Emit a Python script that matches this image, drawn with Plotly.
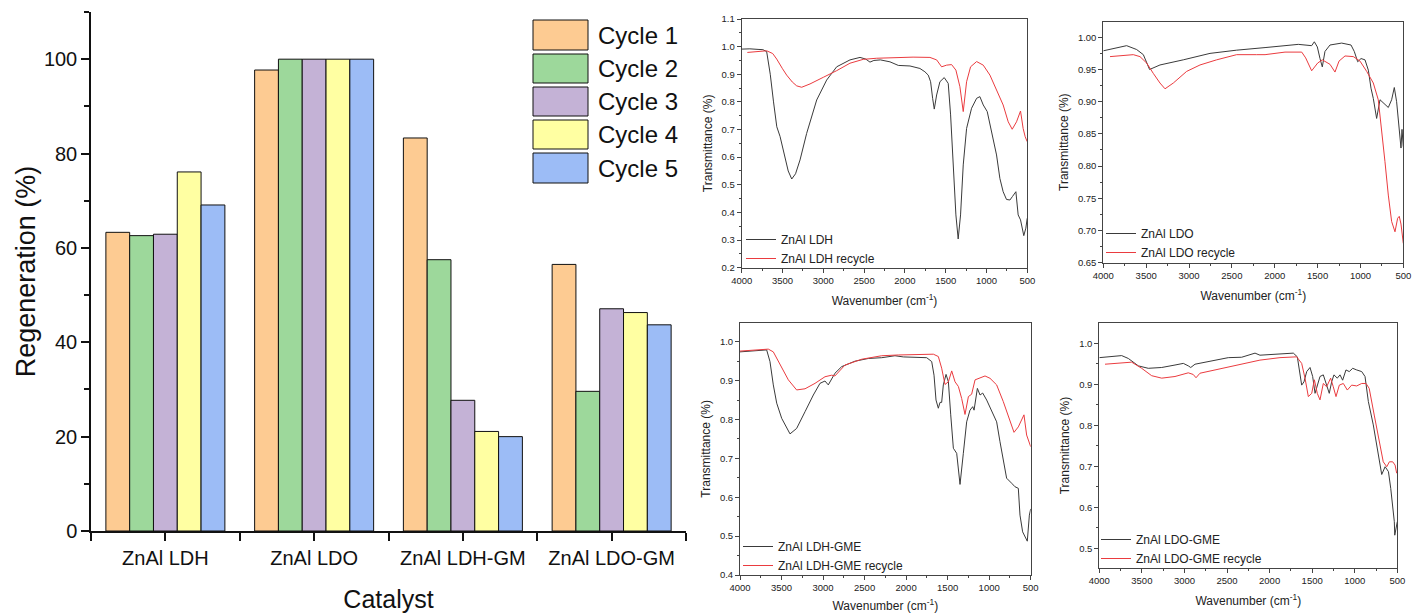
import plotly.graph_objects as go

# ---------------- data: regeneration bar chart ----------------
catalysts = ["ZnAl LDH", "ZnAl LDO", "ZnAl LDH-GM", "ZnAl LDO-GM"]
cycle_names = ["Cycle 1", "Cycle 2", "Cycle 3", "Cycle 4", "Cycle 5"]
cycle1 = [63.3, 97.7, 83.3, 56.5]
cycle2 = [62.6, 100.0, 57.5, 29.6]
cycle3 = [62.9, 100.0, 27.7, 47.1]
cycle4 = [76.1, 100.0, 21.1, 46.3]
cycle5 = [69.1, 100.0, 20.0, 43.7]
cycle_values = [cycle1, cycle2, cycle3, cycle4, cycle5]
cycle_colors = ["#FDCB92", "#9DD89B", "#C4B2D6", "#FFFFA2", "#9CBCF6"]

# ---------------- data: FTIR spectra ----------------
ldh_wn = [4000, 3900, 3800, 3740, 3694, 3650, 3610, 3570, 3530, 3480, 3430, 3387, 3340, 3285, 3204, 3081,
          2959, 2836, 2673, 2550, 2480, 2428, 2380, 2300, 2183, 2081, 1938, 1816, 1755, 1714, 1685, 1660,
          1640, 1611, 1571, 1518, 1469, 1440, 1408, 1375, 1347, 1318, 1285, 1244, 1183, 1121, 1081, 1040,
          991, 938, 877, 836, 796, 755, 713, 681, 640, 612, 583, 543, 518, 501]
ldh_t = [0.991, 0.992, 0.990, 0.989, 0.982, 0.90, 0.80, 0.71, 0.675, 0.615, 0.55, 0.521, 0.54, 0.59, 0.686, 0.807,
         0.879, 0.927, 0.952, 0.961, 0.955, 0.944, 0.950, 0.952, 0.945, 0.932, 0.930, 0.921, 0.909, 0.897, 0.873, 0.813,
         0.774, 0.825, 0.873, 0.888, 0.867, 0.753, 0.572, 0.391, 0.304, 0.391, 0.572, 0.704, 0.777, 0.813, 0.819, 0.789,
         0.765, 0.692, 0.608, 0.523, 0.475, 0.447, 0.445, 0.458, 0.475, 0.391, 0.373, 0.316, 0.343, 0.379]
ldh_rec_wn = [3931, 3800, 3694, 3620, 3571, 3500, 3449, 3380, 3326, 3265, 3163, 3000, 2836, 2673, 2510, 2346,
              2101, 1900, 1693, 1611, 1550, 1489, 1428, 1375, 1326, 1285, 1244, 1195, 1121, 1040, 958, 877,
              796, 734, 685, 632, 583, 551, 526, 501]
ldh_rec_t = [0.979, 0.981, 0.985, 0.975, 0.955, 0.92, 0.897, 0.872, 0.858, 0.853, 0.865, 0.889, 0.913, 0.94, 0.954, 0.958,
             0.961, 0.962, 0.961, 0.952, 0.927, 0.933, 0.935, 0.915, 0.855, 0.765, 0.873, 0.927, 0.946, 0.933, 0.897, 0.843,
             0.789, 0.728, 0.701, 0.728, 0.767, 0.704, 0.674, 0.656]

ldo_wn = [4000, 3844, 3728, 3611, 3533, 3460, 3339, 3067, 2755, 2444, 2211, 2113, 1725, 1569, 1538, 1503,
          1472, 1445, 1414, 1355, 1219, 1110, 1072, 1032, 993, 947, 908, 877, 850, 811, 772, 733,
          675, 636, 605, 578, 550, 527, 515, 500]
ldo_t = [0.979, 0.983, 0.987, 0.981, 0.973, 0.950, 0.957, 0.965, 0.975, 0.980, 0.982, 0.984, 0.989, 0.987, 0.993, 0.985,
         0.967, 0.954, 0.978, 0.988, 0.991, 0.988, 0.978, 0.962, 0.967, 0.965, 0.949, 0.921, 0.905, 0.874, 0.903, 0.898,
         0.891, 0.903, 0.922, 0.900, 0.864, 0.828, 0.857, 0.830]
ldo_rec_wn = [3922, 3650, 3572, 3494, 3417, 3339, 3280, 3183, 3028, 2872, 2678, 2444, 2211, 2113, 1880, 1685,
              1639, 1569, 1499, 1445, 1355, 1297, 1250, 1180, 1083, 1005, 927, 850, 792, 753, 714, 675,
              636, 597, 566, 547, 527, 500]
ldo_rec_t = [0.970, 0.973, 0.970, 0.960, 0.944, 0.929, 0.920, 0.929, 0.947, 0.957, 0.965, 0.973, 0.973, 0.973, 0.977, 0.977,
             0.968, 0.948, 0.960, 0.965, 0.958, 0.946, 0.963, 0.971, 0.970, 0.963, 0.947, 0.929, 0.903, 0.859, 0.807, 0.755,
             0.714, 0.698, 0.719, 0.722, 0.710, 0.680]

ldhg_wn = [4000, 3679, 3639, 3599, 3558, 3498, 3398, 3318, 3217, 3117, 3037, 2977, 2937, 2896, 2857, 2776,
           2616, 2455, 2294, 2134, 2034, 1752, 1692, 1664, 1640, 1612, 1592, 1572, 1552, 1519, 1491, 1463,
           1431, 1391, 1351, 1311, 1271, 1231, 1198, 1182, 1142, 1110, 1078, 1030, 970, 910, 870, 830,
           790, 729, 689, 649, 629, 597, 557, 541, 516, 500]
ldhg_t = [0.974, 0.979, 0.949, 0.889, 0.842, 0.803, 0.763, 0.777, 0.820, 0.863, 0.893, 0.899, 0.889, 0.906, 0.919, 0.936,
          0.950, 0.957, 0.959, 0.964, 0.961, 0.959, 0.949, 0.914, 0.850, 0.829, 0.844, 0.844, 0.889, 0.916, 0.897, 0.812,
          0.726, 0.713, 0.633, 0.713, 0.794, 0.824, 0.833, 0.824, 0.880, 0.863, 0.868, 0.850, 0.824, 0.794, 0.743, 0.691,
          0.649, 0.636, 0.627, 0.623, 0.554, 0.511, 0.494, 0.487, 0.554, 0.570]
ldhg_rec_wn = [4000, 3659, 3599, 3518, 3418, 3318, 3217, 3097, 2977, 2896, 2857, 2736, 2535, 2294, 2094, 1672,
               1612, 1572, 1532, 1491, 1451, 1411, 1371, 1331, 1291, 1250, 1211, 1170, 1110, 1050, 990, 910,
               830, 749, 701, 649, 581, 549, 500]
ldhg_rec_t = [0.976, 0.981, 0.974, 0.940, 0.902, 0.876, 0.879, 0.893, 0.910, 0.914, 0.912, 0.940, 0.955, 0.964, 0.966, 0.968,
              0.962, 0.932, 0.890, 0.897, 0.925, 0.897, 0.885, 0.854, 0.813, 0.859, 0.865, 0.902, 0.906, 0.912, 0.906, 0.889,
              0.846, 0.794, 0.767, 0.781, 0.812, 0.760, 0.730]

ldog_wn = [4000, 3737, 3659, 3542, 3425, 3267, 3111, 3013, 2955, 2926, 2876, 2720, 2485, 2328, 2171, 2113,
           1878, 1721, 1674, 1651, 1623, 1596, 1564, 1525, 1494, 1466, 1440, 1408, 1369, 1330, 1299, 1271,
           1244, 1205, 1173, 1142, 1103, 1064, 1024, 977, 918, 879, 840, 782, 723, 683, 643, 604,
           577, 554, 535, 530, 500]
ldog_t = [0.965, 0.970, 0.963, 0.945, 0.939, 0.941, 0.947, 0.951, 0.945, 0.941, 0.949, 0.955, 0.965, 0.966, 0.976, 0.971,
          0.973, 0.976, 0.967, 0.931, 0.898, 0.906, 0.931, 0.941, 0.919, 0.878, 0.898, 0.919, 0.923, 0.898, 0.878, 0.906,
          0.923, 0.915, 0.923, 0.910, 0.935, 0.931, 0.939, 0.935, 0.931, 0.919, 0.858, 0.801, 0.728, 0.680, 0.699, 0.687,
          0.646, 0.598, 0.565, 0.532, 0.565]
ldog_rec_wn = [3933, 3620, 3502, 3385, 3267, 3111, 2955, 2897, 2864, 2818, 2641, 2406, 2171, 2113, 1878, 1682,
               1623, 1584, 1545, 1505, 1474, 1440, 1408, 1369, 1330, 1283, 1252, 1220, 1181, 1134, 1087, 1036,
               977, 918, 867, 830, 771, 712, 665, 624, 593, 554, 526, 507]
ldog_rec_t = [0.949, 0.954, 0.939, 0.921, 0.915, 0.919, 0.928, 0.924, 0.916, 0.927, 0.935, 0.945, 0.955, 0.959, 0.965, 0.967,
              0.951, 0.915, 0.870, 0.878, 0.911, 0.878, 0.862, 0.902, 0.894, 0.915, 0.894, 0.870, 0.898, 0.902, 0.886, 0.898,
              0.896, 0.902, 0.902, 0.890, 0.825, 0.760, 0.711, 0.699, 0.711, 0.711, 0.703, 0.683]

W, H = 1424, 613
FONT = "Arial, Liberation Sans, sans-serif"
BLACK_LINE = "#3a3a3a"
RED_LINE = "#ea3b3f"


def px(x):
    return x / W


def py(y):
    return 1 - y / H


fig = go.Figure()

# ---------------- bar chart ----------------
xs = list(range(len(catalysts)))
for name, vals, col in zip(cycle_names, cycle_values, cycle_colors):
    fig.add_trace(go.Bar(x=xs, y=vals, name=name, marker=dict(color=col, line=dict(color="#111", width=1)),
                         xaxis="x", yaxis="y", showlegend=False))

# ---------------- FTIR panels ----------------
panels = [
    ("x2", "y2", "legend2", ldh_wn, ldh_t, "ZnAl LDH", ldh_rec_wn, ldh_rec_t, "ZnAl LDH recycle"),
    ("x3", "y3", "legend3", ldo_wn, ldo_t, "ZnAl LDO", ldo_rec_wn, ldo_rec_t, "ZnAl LDO recycle"),
    ("x4", "y4", "legend4", ldhg_wn, ldhg_t, "ZnAl LDH-GME", ldhg_rec_wn, ldhg_rec_t, "ZnAl LDH-GME recycle"),
    ("x5", "y5", "legend5", ldog_wn, ldog_t, "ZnAl LDO-GME", ldog_rec_wn, ldog_rec_t, "ZnAl LDO-GME recycle"),
]
for xa, ya, lg, wn1, t1, n1, wn2, t2, n2 in panels:
    fig.add_trace(go.Scatter(x=wn1, y=t1, mode="lines", name=n1, line=dict(color=BLACK_LINE, width=1),
                             xaxis=xa, yaxis=ya, legend=lg))
    fig.add_trace(go.Scatter(x=wn2, y=t2, mode="lines", name=n2, line=dict(color=RED_LINE, width=1),
                             xaxis=xa, yaxis=ya, legend=lg))

layout = dict(
    width=W, height=H, margin=dict(l=0, r=0, t=0, b=0, autoexpand=False),
    paper_bgcolor="white", plot_bgcolor="white",
    font=dict(family=FONT, color="#111"),
    barmode="group", bargap=0.2, bargroupgap=0,
)

# bar axes
layout["xaxis"] = dict(
    domain=[px(91), px(686)], range=[-0.5, 3.5], anchor="y", automargin=False,
    tickmode="array", tickvals=xs, ticktext=catalysts,
    ticks="outside", ticklen=8, tickwidth=1.5, tickcolor="#111",
    minor=dict(tick0=0.5, dtick=1, ticks="outside", ticklen=8, tickwidth=1.5, tickcolor="#111"),
    showline=True, linecolor="#111", linewidth=1.5, showgrid=False, zeroline=False,
    tickfont=dict(size=20, family=FONT, color="#111"),
    title=dict(text="Catalyst", font=dict(size=25, family=FONT, color="#111"), standoff=23),
)
layout["yaxis"] = dict(
    domain=[py(531), py(12)], range=[0, 110], anchor="x", automargin=False,
    tickmode="linear", tick0=0, dtick=20,
    ticks="outside", ticklen=8, tickwidth=1.5, tickcolor="#111",
    minor=dict(dtick=10, ticks="outside", ticklen=5, tickwidth=1.5, tickcolor="#111"),
    showline=True, linecolor="#111", linewidth=1.5, showgrid=False, zeroline=False,
    tickfont=dict(size=20, family=FONT, color="#111"),
    title=dict(text="Regeneration (%)", font=dict(size=27, family=FONT, color="#111"), standoff=0),
)

# FTIR axes
ftir_geom = {
    "2": (741.7, 1027.3, 19.0, 267.7, [0.2, 1.1], 0.1, ".1f"),
    "3": (1103.3, 1403.3, 21.7, 262.7, [0.65, 1.0242], 0.05, ".2f"),
    "4": (740.0, 1030.7, 322.7, 575.0, [0.4, 1.049], 0.1, ".1f"),
    "5": (1099.3, 1397.3, 323.0, 568.0, [0.452, 1.0495], 0.1, ".1f"),
}
AX_COL = "#444"
for k, (x0, x1, yt, yb, yr, dt, fmt) in ftir_geom.items():
    layout["xaxis" + k] = dict(
        domain=[px(x0), px(x1)], range=[4000, 500], anchor="y" + k, automargin=False,
        tickmode="linear", tick0=500, dtick=500,
        ticks="outside", ticklen=4, tickwidth=1, tickcolor=AX_COL,
        minor=dict(dtick=250, ticks="outside", ticklen=2, tickwidth=1, tickcolor=AX_COL),
        showline=True, mirror=True, linecolor=AX_COL, linewidth=1, showgrid=False, zeroline=False,
        tickfont=dict(size=9.5, family=FONT, color="#222"),
        title=dict(text="Wavenumber (cm<sup>-1</sup>)", font=dict(size=12, family=FONT, color="#222"), standoff=11),
    )
    layout["yaxis" + k] = dict(
        domain=[py(yb), py(yt)], range=yr, anchor="x" + k, automargin=False,
        tickmode="linear", tick0=0.0, dtick=dt, tickformat=fmt,
        ticks="outside", ticklen=4, tickwidth=1, tickcolor=AX_COL,
        minor=dict(dtick=dt / 2, ticks="outside", ticklen=2, tickwidth=1, tickcolor=AX_COL),
        showline=True, mirror=True, linecolor=AX_COL, linewidth=1, showgrid=False, zeroline=False,
        tickfont=dict(size=9.5, family=FONT, color="#222"),
        title=dict(text="Transmittance (%)", font=dict(size=12, family=FONT, color="#222"), standoff=6),
    )

# FTIR legends (inside, bottom-left)
legend_pos = {"legend2": (741, 225), "legend3": (1101, 219), "legend4": (738, 532), "legend5": (1096, 525)}
for lg, (lx, ly) in legend_pos.items():
    layout[lg] = dict(x=px(lx), y=py(ly), xanchor="left", yanchor="top", bgcolor="rgba(0,0,0,0)",
                      font=dict(size=12, family=FONT, color="#222"), tracegroupgap=0)

fig.update_layout(**layout)

# custom bar legend (large swatches like the original)
sw_x0, sw_x1 = 533, 588
rows = [(20, 50), (54, 83), (87, 116), (120, 149), (153, 183)]
for (y0, y1), name, col in zip(rows, cycle_names, cycle_colors):
    fig.add_shape(type="rect", xref="paper", yref="paper", x0=px(sw_x0), x1=px(sw_x1), y0=py(y1), y1=py(y0),
                  fillcolor=col, line=dict(color="#111", width=1))
    fig.add_annotation(xref="paper", yref="paper", x=px(596), y=py((y0 + y1) / 2), text=name, showarrow=False,
                       xanchor="left", yanchor="middle", font=dict(size=24, family=FONT, color="#111"))

fig.write_html("out.html")
